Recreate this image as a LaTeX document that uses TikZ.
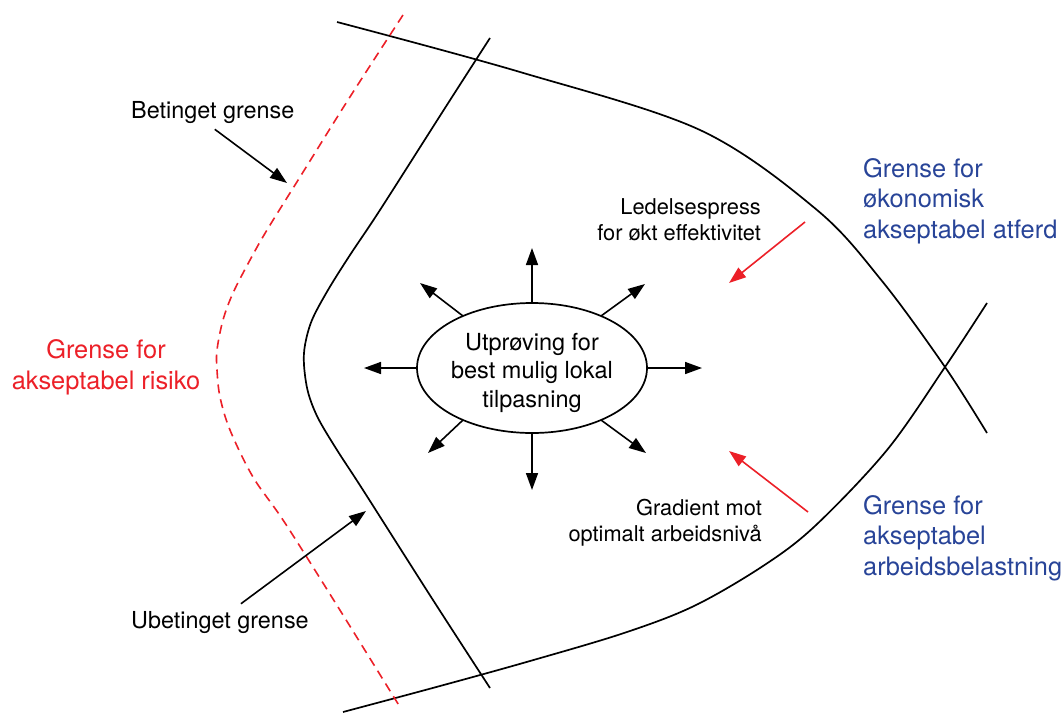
\documentclass[tikz,border=0pt]{standalone}
\usepackage{fontspec}
\setmainfont{TeX Gyre Heros}
\usetikzlibrary{arrows.meta,shapes.geometric}
\definecolor{limitred}{RGB}{236,32,40}
\definecolor{limitblue}{RGB}{40,68,152}
\tikzset{
  boundary/.style={line width=1.7pt, line join=round},
  riskline/.style={line width=1.6pt, limitred, dash pattern=on 9pt off 6pt},
  arr/.style={line width=1.6pt, -{Triangle[length=17pt,width=12pt]}},
  redarr/.style={arr, limitred},
  lbl/.style={inner sep=0pt, font=\fontsize{23.4}{28}\selectfont},
  note/.style={inner sep=0pt, align=right, font=\fontsize{21.8}{26}\selectfont},
  limitlbl/.style={inner sep=0pt, font=\fontsize{25.4}{30.5}\selectfont},
}
\begin{document}
\begin{tikzpicture}[x=1pt,y=-1pt]
\useasboundingbox (0,0) rectangle (1062,713);

% limit of acceptable economic behaviour
\draw[boundary] plot[smooth, tension=0.55] coordinates {(337,22) (520,72) (700,130) (817,210) (882,281) (945,367) (987,433)};
% limit of acceptable workload
\draw[boundary] plot[smooth, tension=0.55] coordinates {(987,303) (945,367) (887,450) (815,526) (763,566) (694,606) (624,633) (530,661) (440,686) (343,712)};
% unconditional limit
\draw[boundary] plot[smooth, tension=0.55] coordinates {(490,38) (445,108) (380,210) (350,255) (328,290) (312,320) (305,345) (304,365) (308,392) (318,418) (337,450) (363,490) (433,600) (490,688)};
% conditional limit (acceptable risk)
\draw[riskline] plot[smooth, tension=0.55] coordinates {(403,15) (348,100) (300,177) (267,230) (250,260) (233,293) (223,320) (217,350) (217,370) (220,397) (230,430) (253,477) (285,523) (343,615) (400,707)};

% central experimentation (base anchor = baseline of the last line)
\node[draw, ellipse, line width=1.7pt, minimum width=230pt, minimum height=130pt, inner sep=0pt, outer sep=0pt] (u) at (532,368) {};
\node[inner sep=0pt, align=center, anchor=base, font=\fontsize{23.5}{28.5}\selectfont] (ut) at (532,407) {Utprøving for\\best mulig lokal\\tilpasning};

\coordinate (tN) at (532,248);
\coordinate (tS) at (532,490);
\coordinate (tW) at (364,368);
\coordinate (tE) at (702,368);
\coordinate (tNW) at (420,283);
\coordinate (tNE) at (645,284);
\coordinate (tSW) at (428,453);
\coordinate (tSE) at (646,453);
\draw[arr] (u.north) -- (tN);
\draw[arr] (u.south) -- (tS);
\draw[arr] (u.west) -- (tW);
\draw[arr] (u.east) -- (tE);
\draw[arr] (u.143) -- (tNW);
\draw[arr] (u.37) -- (tNE);
\draw[arr] (u.217) -- (tSW);
\draw[arr] (u.323) -- (tSE);

% labels of the limits
\node[lbl, anchor=base west] (betinget) at (131,118) {Betinget grense};
\node[lbl, anchor=base west] (ubetinget) at (131,628) {Ubetinget grense};
\coordinate (btTip) at (287,183);
\coordinate (ubTip) at (366,511);
\draw[arr] ([xshift=2pt,yshift=-6pt]betinget.south) -- (btTip);
\draw[arr] ([xshift=21pt,yshift=7pt]ubetinget.north) -- (ubTip);

\node[limitlbl, text=limitred, align=center, anchor=base] (risk) at (106,389) {Grense for\\akseptabel risiko};
\node[limitlbl, text=limitblue, align=left, anchor=base west] (econ) at (863,238) {Grense for\\økonomisk\\akseptabel atferd};
\node[limitlbl, text=limitblue, align=left, anchor=base west] (work) at (863,575) {Grense for\\akseptabel\\arbeidsbelastning};

% pressures
\node[note, anchor=base east] (press) at (761,240) {Ledelsespress\\for økt effektivitet};
\node[note, anchor=base east] (grad) at (762,541) {Gradient mot\\optimalt arbeidsnivå};
\coordinate (pFrom) at (805,222);
\coordinate (pTip) at (729,283);
\coordinate (gFrom) at (808,512);
\coordinate (gTip) at (729,451);
\draw[redarr] (pFrom) -- (pTip);
\draw[redarr] (gFrom) -- (gTip);
\end{tikzpicture}
\end{document}
